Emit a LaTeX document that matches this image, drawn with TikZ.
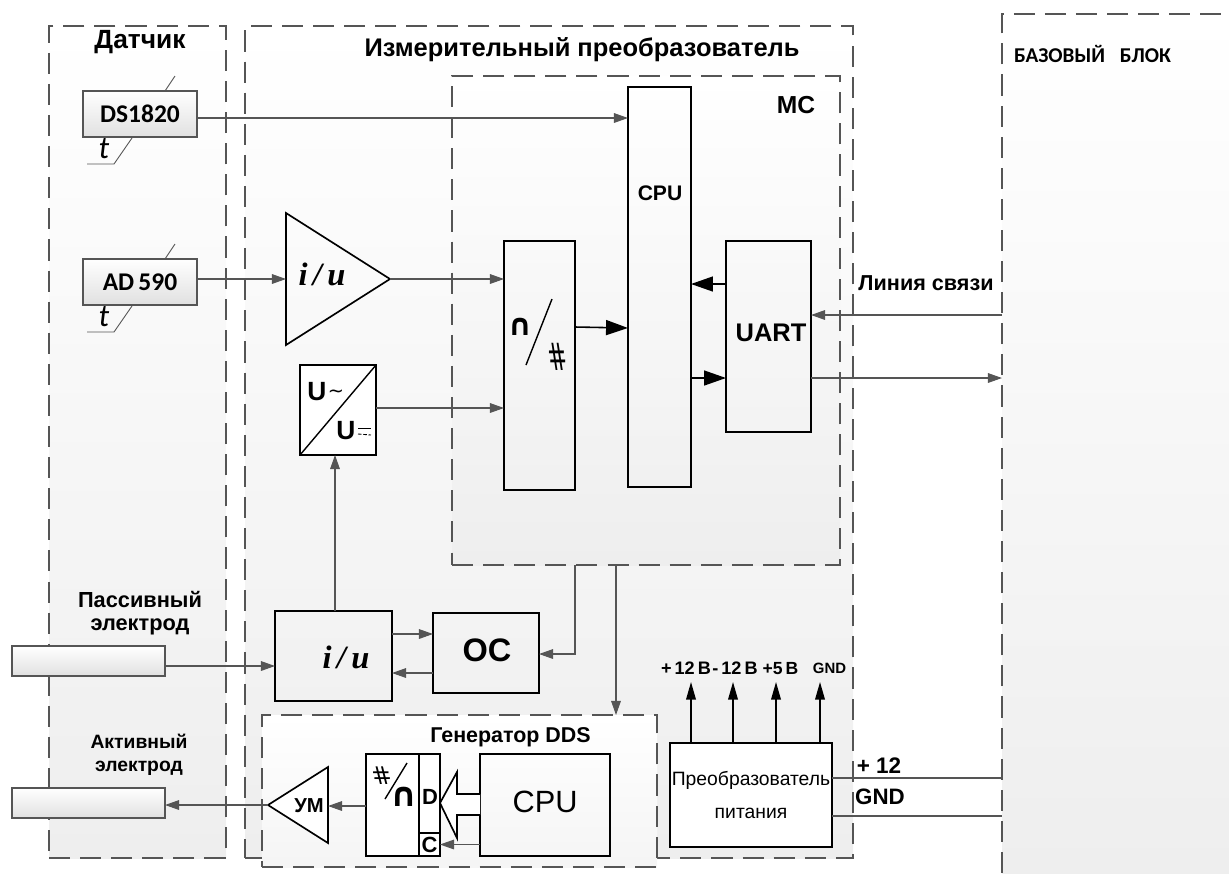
\documentclass[tikz,border=0pt]{standalone}
\usepackage{fontspec}
\usepackage{graphicx}
\setmainfont{Liberation Sans}
\newfontfamily\calibrifont{Carlito}
\newfontfamily\timesfont{Liberation Serif}
\newfontfamily\symfont{DejaVu Sans}
\usetikzlibrary{arrows.meta}
\definecolor{gray}{HTML}{555555}
\definecolor{panelgray}{HTML}{EEEEEE}
\newlength{\pxu}
\setlength{\pxu}{0.02cm}
\newcommand{\fs}[1]{\fontsize{#1}{#1}\selectfont}
\tikzset{
  every picture/.style={line join=miter, >=Stealth},
  sz/.style n args={2}{minimum width=#1*\pxu, minimum height=#2*\pxu},
  panel/.style={rectangle, inner sep=0pt, outer sep=0pt, top color=white, bottom color=panelgray, draw=gray, line width=0.75pt, dash pattern=on 12pt off 5.7pt},
  blk/.style={rectangle, draw=black, line width=0.95pt, inner sep=0pt, outer sep=0pt, fill=none},
  sensor/.style={rectangle, draw=gray, line width=0.75pt, inner sep=0pt, outer sep=0pt, top color=white, bottom color=black!12},
  txt/.style={inner sep=0pt, outer sep=0pt, font=\bfseries\fs{11}},
  link/.style={draw=gray, line width=0.6pt, -{Stealth[inset=0pt,length=8pt,width=5.5pt]}},
  wire/.style={draw=gray, line width=0.6pt},
  bigarrow/.style={draw=black, line width=0.9pt, -{Stealth[inset=0pt,length=12.5pt,width=8.5pt]}},
  powarrow/.style={draw=black, line width=0.8pt, -{Stealth[inset=0pt,length=10pt,width=5.5pt]}},
}
\begin{document}
\begin{tikzpicture}[x=0.02cm,y=-0.02cm]
\useasboundingbox (0,0) rectangle (1229,873);
% panels
\node[panel,sz={177}{832}] (sensors) at (137.5,442) {};
\node[panel,sz={608}{832}] (meter) at (549,442) {};
\node[rectangle,inner sep=0pt,outer sep=0pt,top color=white,bottom color=panelgray,sz={227}{859}] (base) at (1115.5,443.5) {};
\draw[gray,line width=0.75pt,dash pattern=on 12pt off 5.7pt] (base.south west)--(base.north west)--(base.north east);
\node[panel,sz={388}{489}] (mc) at (646,320.5) {};
\node[panel,top color=white,bottom color=black!4,sz={395}{152}] (gen) at (459.5,791) {};
\node[txt,font=\bfseries\fs{15}] (sensorsT) at (140,42) {Датчик};
\node[txt,font=\bfseries\fs{14.5}] (meterT) at (582,50) {Измерительный преобразователь};
\node[txt,font=\calibrifont\bfseries\fs{12}] (baseT) at (1092.5,54) {БАЗОВЫЙ\hspace{0.7em}БЛОК};
\node[txt,font=\bfseries\fs{14}] (mcT) at (796,105) {МС};
\node[txt,font=\bfseries\fs{12.2}] (genT) at (510.5,737) {Генератор DDS};
% sensors
\node[sensor,sz={114}{46},font=\calibrifont\bfseries\fs{14.5}] (ds) at (140,114) {DS1820};
\node[sensor,sz={114}{46},font=\calibrifont\bfseries\fs{14.5}] (ad) at (140,282) {AD\,590};
\coordinate (dsA) at (175,76);
\coordinate (dsB) at (114,164);
\coordinate (dsC) at (87,164);
\coordinate (adA) at (175,244);
\coordinate (adB) at (114,332);
\coordinate (adC) at (87,332);
\draw[gray,line width=0.5pt] (dsA)--(165,91);
\draw[gray,line width=0.5pt] (132,138)--(dsB)--(dsC);
\draw[gray,line width=0.5pt] (adA)--(165,259);
\draw[gray,line width=0.5pt] (132,306)--(adB)--(adC);
\node[txt,font=\calibrifont\itshape\fs{18}] (dsT) at (104,149) {t};
\node[txt,font=\calibrifont\itshape\fs{18}] (adT) at (104,317) {t};
\node[sensor,sz={153}{30}] (pas) at (88.5,661) {};
\node[sensor,sz={153}{30}] (act) at (88.5,803) {};
\node[txt,font=\bfseries\fs{12.4},align=center] (pasT) at (140,613) {Пассивный\\[1pt]электрод};
\node[txt,font=\bfseries\fs{11},align=center] (actT) at (139,755) {Активный\\[2pt]электрод};
% amplifier
\coordinate (ampA) at (286,213);
\coordinate (ampB) at (286,345);
\coordinate (ampC) at (390,279);
\draw[black,line width=0.95pt] (ampA)--(ampC)--(ampB)--cycle;
\node[txt,font=\timesfont\bfseries\itshape\fs{18.5}] (ampT) at (322,274) {i\,/\,u};
% rectifier
\node[blk,sz={76}{90},fill=white] (rect) at (338,410) {};
\draw[black,line width=0.8pt] (rect.south west)--(rect.north east);
\node[txt,font=\bfseries\fs{15}] (rectA) at (317,392) {U};
\node[txt,font=\symfont\fs{11}] (rectB) at (336,394) {∼};
\node[txt,font=\bfseries\fs{15}] (rectC) at (346,431) {U};
\draw[black,line width=0.5pt] (358,428)--(371,428);
\draw[black,line width=0.5pt,dash pattern=on 2pt off 1pt] (358,434)--(371,435);
% MC contents
\node[blk,sz={71}{249}] (adc) at (539.5,365.5) {};
\node[blk,sz={63}{400}] (cpu) at (659.5,287) {};
\node[blk,sz={85}{191}] (uart) at (768.5,336.5) {};
\node[txt,font=\bfseries\fs{12}] (cpuT) at (660,193) {CPU};
\node[txt,font=\bfseries\fs{14.5}] (uartT) at (771,333) {UART};
\node[txt,font=\symfont\bfseries\fs{17}] (adcA) at (520,327) {∩};
\node[txt,font=\symfont\fs{13.5}] (adcB) at (558,357) {\scalebox{1}[1.6]{\reflectbox{\#}}};
\coordinate (adcS) at (552,299);
\coordinate (adcE) at (526,365);
\draw[black,line width=0.8pt] (adcS)--(adcE);
% feedback
\node[blk,sz={117}{90}] (iu) at (333.5,656) {};
\node[blk,sz={106}{80}] (oc) at (486,653) {};
\node[txt,font=\timesfont\bfseries\itshape\fs{18.5}] (iuT) at (346,657) {i\,/\,u};
\node[txt,font=\bfseries\fs{18.5}] (ocT) at (487,650) {OC};
% DDS generator
\coordinate (umA) at (268,805);
\coordinate (umB) at (328,767);
\coordinate (umC) at (328,843);
\draw[black,line width=0.95pt,fill=white] (umA)--(umB)--(umC)--cycle;
\node[txt,font=\bfseries\fs{11.5}] (umT) at (309,806) {УМ};
\node[blk,sz={74}{102},fill=white] (dac) at (403,805) {};
\node[blk,sz={21}{79},fill=white] (dacD) at (429.5,793.5) {};
\node[blk,sz={21}{23},fill=white,font=\bfseries\fs{12.5}] (dacC) at (429.5,844.5) {C};
\node[txt,font=\bfseries\fs{12.5}] (dacDT) at (430,797) {D};
\node[txt,font=\symfont\fs{14}] (dacA) at (381.5,776) {\reflectbox{\#}};
\node[txt,font=\symfont\bfseries\fs{19}] (dacB) at (404,797) {∩};
\draw[black,line width=0.8pt] (407,763)--(385,799);
\node[blk,sz={130}{102}] (cpuB) at (545,805) {};
\node[txt,font=\fs{17.5}] (cpuBT) at (545,802) {CPU};
\coordinate (fatA) at (cpuB.west |- 0,794);
\coordinate (fatB) at (cpuB.west |- 0,815);
\draw[black,line width=0.95pt,fill=white] (fatA)--(457,794)--(457,772)--(dacD.east |- 0,803)--(457,838)--(457,815)--(fatB);
% power
\node[blk,sz={162}{104},fill=white,align=center,font=\fs{11}] (pow) at (751,795) {Преобразователь\\[8pt]питания};
\coordinate (powA) at (691,682);
\coordinate (powB) at (733,682);
\coordinate (powC) at (776,682);
\coordinate (powD) at (820,682);
\draw[powarrow] (pow.north -| powA)--(powA);
\draw[powarrow] (pow.north -| powB)--(powB);
\draw[powarrow] (pow.north -| powC)--(powC);
\draw[powarrow] (pow.north -| powD)--(powD);
\node[txt,anchor=base,font=\bfseries\fs{10.3}] (powAT) at (686,674) {+\,12\,В};
\node[txt,anchor=base,font=\bfseries\fs{10.3}] (powBT) at (735,674) {-\,12\,В};
\node[txt,anchor=base,font=\bfseries\fs{10}] (powCT) at (780.5,674) {+5\,В};
\node[txt,anchor=base,font=\bfseries\fs{8.5}] (powDT) at (829.5,673) {GND};
\node[txt,font=\bfseries\fs{12.8}] (plusT) at (879,766) {+ 12};
\node[txt,font=\bfseries\fs{12.7}] (gndT) at (880,797) {GND};
\node[txt,font=\bfseries\fs{12.3}] (lineT) at (926,283) {Линия связи};
% connectors
\coordinate (busA) at (1002,315);
\coordinate (busB) at (1002,378);
\coordinate (pwA) at (1002,778);
\coordinate (pwB) at (1002,816);
\draw[link] (ds.east |- 0,118)--(cpu.west |- 0,118);
\draw[link] (ad.east |- ampC)--(ampA |- ampC);
\draw[link] (ampC)--(adc.west |- ampC);
\draw[link] (rect.east |- 0,408)--(adc.west |- 0,408);
\draw[link] (busA)--(uart.east |- busA);
\draw[link] (uart.east |- busB)--(busB);
\draw[bigarrow] (adc.east |- 0,327)--(cpu.west |- 0,328);
\draw[bigarrow] (uart.west |- 0,284)--(cpu.east |- 0,284);
\draw[bigarrow] (cpu.east |- 0,378)--(uart.west |- 0,378);
\draw[link] (iu.north -| 335,0)--(rect.south -| 335,0);
\draw[link] (pas.east |- 0,666)--(iu.west |- 0,666);
\draw[link] (iu.east |- 0,634)--(oc.west |- 0,634);
\draw[link] (oc.west |- 0,673)--(iu.east |- 0,673);
\draw[link] (mc.south -| 575,0)--(575,654)--(oc.east |- 0,654);
\draw[link] (mc.south -| 616,0)--(gen.north -| 616,0);
\draw[link] (umA)--(act.east |- umA);
\draw[link] (dac.west |- 0,806)--(umB |- 0,806);
\draw[link] (cpuB.west |- dacC)--(dacC.east);
\draw[wire] (pow.east |- pwA)--(pwA);
\draw[wire] (pow.east |- pwB)--(pwB);
\end{tikzpicture}
\end{document}
